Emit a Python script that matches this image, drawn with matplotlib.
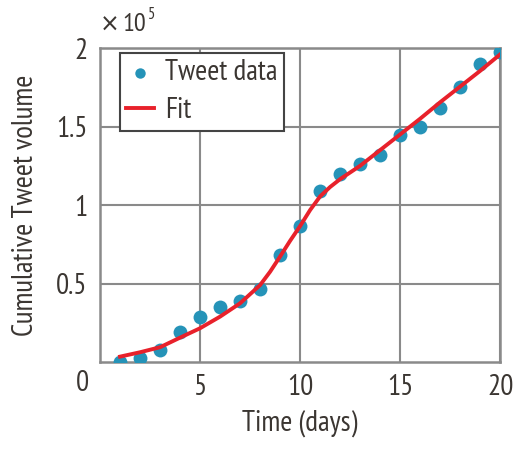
import matplotlib
matplotlib.use("Agg")
import matplotlib.pyplot as plt
from matplotlib.transforms import blended_transform_factory

plt.rcParams['font.family'] = ['PT Sans Narrow', 'DejaVu Sans']

# Observed cumulative tweet volume (units of 1e5)
days = [1, 2, 3, 4, 5, 6, 7, 8, 9, 10, 11, 12, 13, 14, 15, 16, 17, 18, 19, 20]
volume = [0.00, 0.024, 0.076, 0.193, 0.285, 0.348, 0.39, 0.465, 0.68, 0.866,
          1.09, 1.20, 1.26, 1.32, 1.446, 1.50, 1.616, 1.75, 1.90, 1.976]

# Fitted model curve (units of 1e5)
fit_days = [1, 2, 3, 4, 5, 6, 7, 8, 8.5, 9, 9.5, 10, 10.5, 11, 11.5, 12,
            13, 14, 15, 16, 17, 18, 19, 20]
fit_vals = [0.034, 0.062, 0.094, 0.155, 0.215, 0.289, 0.374, 0.49, 0.575, 0.672,
            0.772, 0.866, 0.968, 1.055, 1.115, 1.165, 1.25, 1.35, 1.45, 1.55,
            1.655, 1.755, 1.855, 1.96]

x_ticks = [5, 10, 15, 20]
y_ticks = [0.5, 1, 1.5, 2]

text_color = '#3b3632'
grid_color = '#8a8a8a'
fs = 21

fig = plt.figure(figsize=(5.21, 4.5), dpi=100)
ax = fig.add_axes([0.192, 0.1956, 0.768, 0.6975])

ax.scatter(days, volume, s=100, color='#2593b8', zorder=3, label='Tweet data',
           linewidths=0)
ax.plot(fit_days, fit_vals, color='#e8212b', lw=2.8, zorder=4, label='Fit')

ax.set_xlim(0, 20)
ax.set_ylim(0, 2)
ax.set_xticks(x_ticks)
ax.set_yticks(y_ticks)
ax.set_xticklabels([str(t) for t in x_ticks])
ax.set_yticklabels(['0.5', '1', '1.5', '2'])
ax.tick_params(length=0, labelsize=fs, labelcolor=text_color, pad=9)
ax.grid(True, color=grid_color, lw=1.5)
ax.set_axisbelow(True)
for sp in ax.spines.values():
    sp.set_color(grid_color)
    sp.set_linewidth(1.8)

# shared origin label
trans = blended_transform_factory(ax.transAxes, ax.transAxes)
ax.text(-0.043, -0.07, '0', transform=trans, ha='center', va='center',
        fontsize=fs, color=text_color)

# exponent note
ax.text(0.0, 1.075, '\u00d7', transform=ax.transAxes, ha='left',
        va='center', fontsize=17, color=text_color, family='DejaVu Sans')
ax.text(0.055, 1.075, '10', transform=ax.transAxes, ha='left',
        va='center', fontsize=19, color=text_color)
ax.text(0.12, 1.105, '5', transform=ax.transAxes, ha='left',
        va='center', fontsize=12, color=text_color)

ax.set_xlabel('Time (days)', fontsize=fs, color=text_color, labelpad=6)
ax.set_ylabel('Cumulative Tweet volume', fontsize=fs, color=text_color,
              labelpad=12)

leg = ax.legend(loc='upper left', bbox_to_anchor=(0.05, 0.985), fontsize=fs,
                frameon=True, fancybox=False, borderpad=0.22, handlelength=0.95,
                handletextpad=0.38, labelspacing=0.38, borderaxespad=0,
                markerscale=0.75)
leg.get_frame().set_edgecolor('#444444')
leg.get_frame().set_linewidth(1.5)
leg.get_frame().set_alpha(1)
for t in leg.get_texts():
    t.set_color(text_color)

fig.savefig('out.png', dpi=100)
